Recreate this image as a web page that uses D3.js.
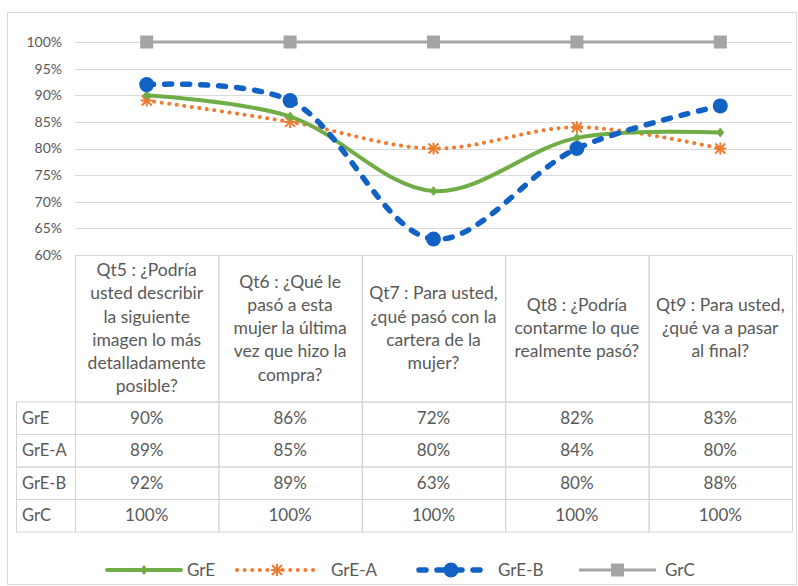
<!DOCTYPE html>
<html><head><meta charset="utf-8">
<script src="https://cdn.jsdelivr.net/npm/d3@7"></script>
<style>
body{margin:0;background:#fff;}
text{font-family:Lato,"Open Sans",sans-serif;fill:#595959;}
</style></head>
<body><svg id="c" width="798" height="586"></svg>
<script>
const categories = ["Qt5","Qt6","Qt7","Qt8","Qt9"];
const categoryLabels = [
  ["Qt5 : ¿Podría","usted describir","la siguiente","imagen lo más","detalladamente","posible?"],
  ["Qt6 : ¿Qué le","pasó a esta","mujer la última","vez que hizo la","compra?"],
  ["Qt7 : Para usted,","¿qué pasó con la","cartera de la","mujer?"],
  ["Qt8 : ¿Podría","contarme lo que","realmente pasó?"],
  ["Qt9 : Para usted,","¿qué va a pasar","al final?"]
];
const seriesNames = ["GrE","GrE-A","GrE-B","GrC"];
const grE  = [90,86,72,82,83];
const grEA = [89,85,80,84,80];
const grEB = [92,89,63,80,88];
const grC  = [100,100,100,100,100];
const yTicks = [60,65,70,75,80,85,90,95,100];

const series = [
  {name:"GrE", values:grE, color:"#70AD47", width:4, dash:null, cap:"round", marker:"diamond"},
  {name:"GrE-A", values:grEA, color:"#ED7D31", width:4, dash:"0.1 7.5", cap:"round", marker:"star"},
  {name:"GrE-B", values:grEB, color:"#1262C6", width:5.5, dash:"7 11", cap:"round", marker:"circle"},
  {name:"GrC", values:grC, color:"#A5A5A5", width:3, dash:null, cap:"butt", marker:"square"}
];

const svg = d3.select("#c");
svg.append("rect").attr("x",7.5).attr("y",12.5).attr("width",789).attr("height",572)
  .attr("fill","#fff").attr("stroke","#d9d9d9");

const pLeft=75, pRight=792, pTop=42, pBottom=255;
const x = d3.scaleBand().domain(categories).range([pLeft,pRight]);
const y = d3.scaleLinear().domain([60,100]).range([pBottom,pTop]);

svg.append("g").selectAll("line").data(yTicks).join("line")
  .attr("x1",pLeft).attr("x2",pRight)
  .attr("y1",d=>Math.round(y(d))+0.5).attr("y2",d=>Math.round(y(d))+0.5)
  .attr("stroke","#d9d9d9").attr("stroke-width",1);

const yAxis = d3.axisLeft(y).tickValues(yTicks).tickFormat(d=>d+"%").tickSize(0).tickPadding(0);
const ga = svg.append("g").attr("transform",`translate(${pLeft-13},0)`).call(yAxis);
ga.select(".domain").remove();
ga.selectAll("text").attr("font-size",14).attr("fill","#595959").style("font-family","Lato,'Open Sans',sans-serif");

const rowH = 32.5;
const tableTop = pBottom, headerBottom = 401.5;
const tableLeft = 16;
const tg = svg.append("g");
const bc = "#d4d4d4";
categories.forEach((c,i)=>{
  const x0 = x(c);
  tg.append("rect").attr("x",x0+0.5).attr("y",tableTop+0.5).attr("width",x.bandwidth()).attr("height",headerBottom-tableTop)
    .attr("fill","none").attr("stroke",bc);
  const lines = categoryLabels[i];
  const lh = 23.2;
  const cy = (tableTop+headerBottom)/2;
  const t = tg.append("text").attr("text-anchor","middle").attr("font-size",17.5);
  lines.forEach((l,k)=>{
    t.append("tspan").attr("x",x0+x.bandwidth()/2)
      .attr("y",cy + (k-(lines.length-1)/2)*lh + 6).text(l);
  });
});
const rows = [grE,grEA,grEB,grC];
rows.forEach((vals,r)=>{
  const y0 = headerBottom + r*rowH;
  tg.append("rect").attr("x",tableLeft+0.5).attr("y",y0+0.5).attr("width",pLeft-tableLeft).attr("height",rowH)
    .attr("fill","none").attr("stroke",bc);
  tg.append("text").attr("x",tableLeft+6).attr("y",y0+rowH/2+6).attr("font-size",16.5).text(seriesNames[r]);
  vals.forEach((v,i)=>{
    const x0 = x(categories[i]);
    tg.append("rect").attr("x",x0+0.5).attr("y",y0+0.5).attr("width",x.bandwidth()).attr("height",rowH)
      .attr("fill","none").attr("stroke",bc);
    tg.append("text").attr("x",x0+x.bandwidth()/2).attr("y",y0+rowH/2+6).attr("text-anchor","middle")
      .attr("font-size",17).text(v+"%");
  });
});

function drawMarker(g, type, cx, cy, color){
  if(type==="circle"){
    g.append("circle").attr("cx",cx).attr("cy",cy).attr("r",7.5).attr("fill",color);
  } else if(type==="square"){
    g.append("rect").attr("x",cx-6.5).attr("y",cy-6.5).attr("width",13).attr("height",13).attr("fill",color);
  } else if(type==="diamond"){
    g.append("path").attr("d",`M${cx},${cy-5}L${cx+4},${cy}L${cx},${cy+5}L${cx-4},${cy}Z`).attr("fill",color);
  } else if(type==="star"){
    const s=5;
    g.append("path").attr("d",`M${cx-s},${cy-s}L${cx+s},${cy+s}M${cx-s},${cy+s}L${cx+s},${cy-s}M${cx},${cy-s-1}L${cx},${cy+s+1}M${cx-s-1},${cy}L${cx+s+1},${cy}`)
      .attr("stroke",color).attr("stroke-width",2).attr("fill","none");
  }
}

const line = d3.line().x((d,i)=>x(categories[i])+x.bandwidth()/2).y(d=>y(d)).curve(d3.curveCatmullRom.alpha(0.5));
[3,1,0,2].forEach(si=>{
  const s = series[si];
  const g = svg.append("g");
  g.append("path").attr("d",line(s.values)).attr("fill","none").attr("stroke",s.color)
    .attr("stroke-width",s.width).attr("stroke-linecap",s.cap)
    .attr("stroke-dasharray",s.dash);
  s.values.forEach((v,i)=>drawMarker(g,s.marker,x(categories[i])+x.bandwidth()/2,y(v),s.color));
});

const legendItems = [
  {s:series[0], x1:107, x2:181, tx:187},
  {s:series[1], x1:237, x2:317, tx:331},
  {s:series[2], x1:419, x2:483, tx:498},
  {s:series[3], x1:579, x2:656, tx:665}
];
const lg = svg.append("g");
const ly = 570;
legendItems.forEach(it=>{
  const s = it.s;
  lg.append("line").attr("x1",it.x1).attr("x2",it.x2).attr("y1",ly).attr("y2",ly)
    .attr("stroke",s.color).attr("stroke-width",s.width).attr("stroke-linecap",s.cap).attr("stroke-dasharray",s.dash);
  drawMarker(lg,s.marker,(it.x1+it.x2)/2,ly,s.color);
  lg.append("text").attr("x",it.tx).attr("y",ly+6).attr("font-size",17).text(s.name);
});
</script></body></html>
